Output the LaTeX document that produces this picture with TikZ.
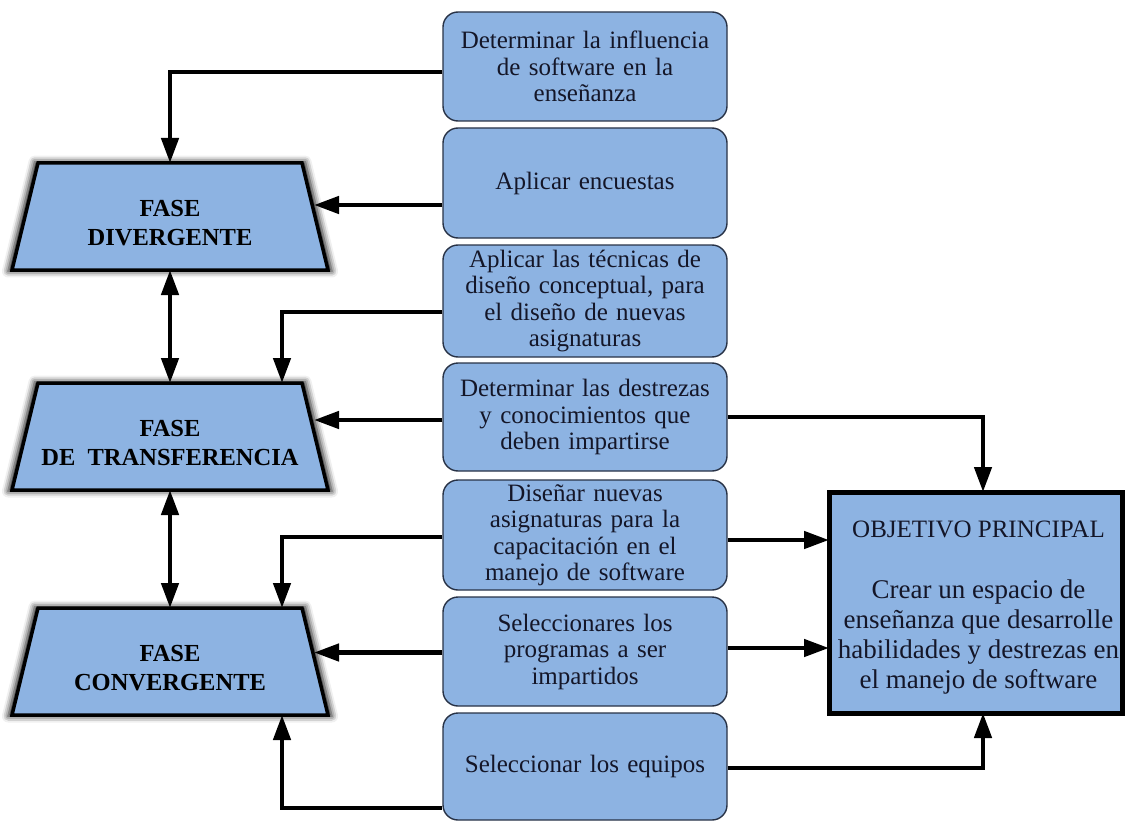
\documentclass[tikz,border=0pt]{standalone}
\usepackage{fontspec}
\setmainfont{Liberation Serif}
\usetikzlibrary{arrows.meta,shadows.blur}
\definecolor{boxfill}{RGB}{141,179,226}
\definecolor{boxline}{RGB}{40,50,70}
\definecolor{inktext}{RGB}{20,22,40}

\begin{document}
\begin{tikzpicture}[x=1pt,y=-1pt,
  >={Triangle[length=25pt,width=17pt]},
  task/.style={draw=boxline, line width=1.4pt, fill=boxfill, rounded corners=15pt,
    minimum width=284pt, text width=276pt, align=center, inner sep=0pt,
    text=inktext, font=\fontsize{25}{26.5}\selectfont},
  % frame of a phase: the trapezoid is drawn on it afterwards
  phase/.style={minimum width=316pt, minimum height=107pt, inner sep=0pt, outer sep=0pt},
  trap/.style={draw=black, line width=3.5pt, fill=boxfill, line join=miter,
    blur shadow={shadow xshift=0pt, shadow yshift=0pt, shadow blur radius=6pt,
      shadow opacity=95, shadow scale=1.025}},
  phasetext/.style={align=center, inner sep=0pt, text=black,
    font=\bfseries\fontsize{24.5}{29}\selectfont},
  goal/.style={draw=black, line width=5pt, fill=boxfill, minimum width=293pt,
    minimum height=221pt, inner sep=0pt, outer sep=0pt},
  goaltext/.style={align=center, inner sep=0pt, text=inktext,
    font=\fontsize{27}{30}\selectfont},
  link/.style={line width=4.5pt, draw=black, ->},
  both/.style={line width=4.5pt, draw=black, <->}
]
\useasboundingbox (0,0) rectangle (1126,821);

% central column of tasks
\node[task, minimum height=109pt] (b1) at (585,66.5)
  {Determinar la influencia\\de software en la\\enseñanza};
\node[task, minimum height=110pt] (b2) at (585,183) {Aplicar encuestas};
\node[task, minimum height=112pt] (b3) at (585,301)
  {Aplicar las técnicas de\\diseño conceptual, para\\el diseño de nuevas\\asignaturas};
\node[task, minimum height=108pt] (b4) at (585,417)
  {Determinar las destrezas\\y conocimientos que\\deben impartirse};
\node[task, minimum height=110pt] (b5) at (585,535)
  {Diseñar nuevas\\asignaturas para la\\capacitación en el\\manejo de software};
\node[task, minimum height=109pt] (b6) at (585,651.5)
  {Seleccionares los\\programas a ser\\impartidos};
\node[task, minimum height=107pt] (b7) at (585,766.5) {Seleccionar los equipos};

% phases
\node[phase] (div) at (170,216.5) {};
\node[phase] (tra) at (170,436.5) {};
\node[phase] (con) at (170,661.5) {};
\foreach \p in {div,tra,con}{
  \begin{scope}
    \path[trap] (\p.south west) -- ([xshift=26pt]\p.north west)
      -- ([xshift=-26pt]\p.north east) -- (\p.south east) -- cycle;
  \end{scope}
  \coordinate (\p E) at ([xshift=-14pt]\p.east);
}
\node[phasetext] (divl) at ([yshift=-7pt]div.center) {FASE\\DIVERGENTE};
\node[phasetext] (tral) at ([yshift=-7pt]tra.center) {FASE\\DE\ \ TRANSFERENCIA};
\node[phasetext] (conl) at ([yshift=-7pt]con.center) {FASE\\CONVERGENTE};

% main objective
\node[goal] (obj) at (975.5,602.5) {};
\node[goaltext] (objl) at ([xshift=3pt,yshift=-5pt]obj.center)
  {{\fontsize{25}{30}\selectfont OBJETIVO PRINCIPAL}\\[31pt]Crear un espacio de\\enseñanza que desarrolle\\habilidades y destrezas en\\el manejo de software};

% connector end points
\coordinate (p1) at ([yshift=-5.5pt]b1.west);
\coordinate (p2) at ([yshift=-22pt]b2.west);
\coordinate (p3) at ([yshift=-11pt]b3.west);
\coordinate (p4) at ([yshift=-3pt]b4.west);
\coordinate (p5) at ([yshift=-2pt]b5.west);
\coordinate (p6) at ([yshift=-1pt]b6.west);
\coordinate (p7) at ([yshift=-41.5pt]b7.west);
\coordinate (q5) at ([yshift=-5pt]b5.east);
\coordinate (q6) at ([yshift=3.5pt]b6.east);
\coordinate (q7) at ([yshift=-1.5pt]b7.east);
\coordinate (t3) at ([xshift=112pt]tra.north);
\coordinate (t5) at ([xshift=112pt]con.north);
\coordinate (t7) at ([xshift=112pt]con.south);
\coordinate (ot) at ([xshift=7.5pt]obj.north);
\coordinate (ob) at ([xshift=7.5pt]obj.south);

% tasks to phases
\draw[link] (p1) -| (div.north);
\draw[link] (p2) -- (p2 -| divE);
\draw[link] (p3) -| (t3);
\draw[link] (p4) -- (p4 -| traE);
\draw[link] (p5) -| (t5);
\draw[link] (p6) -- (p6 -| conE);
\draw[link] (p7) -| (t7);

% between phases
\draw[both] (div.south) -- (tra.north);
\draw[both] (tra.south) -- (con.north);

% tasks to objective
\draw[link] (b4.east) -| (ot);
\draw[link] (q5) -- (q5 -| obj.west);
\draw[link] (q6) -- (q6 -| obj.west);
\draw[link] (q7) -| (ob);
\end{tikzpicture}
\end{document}
